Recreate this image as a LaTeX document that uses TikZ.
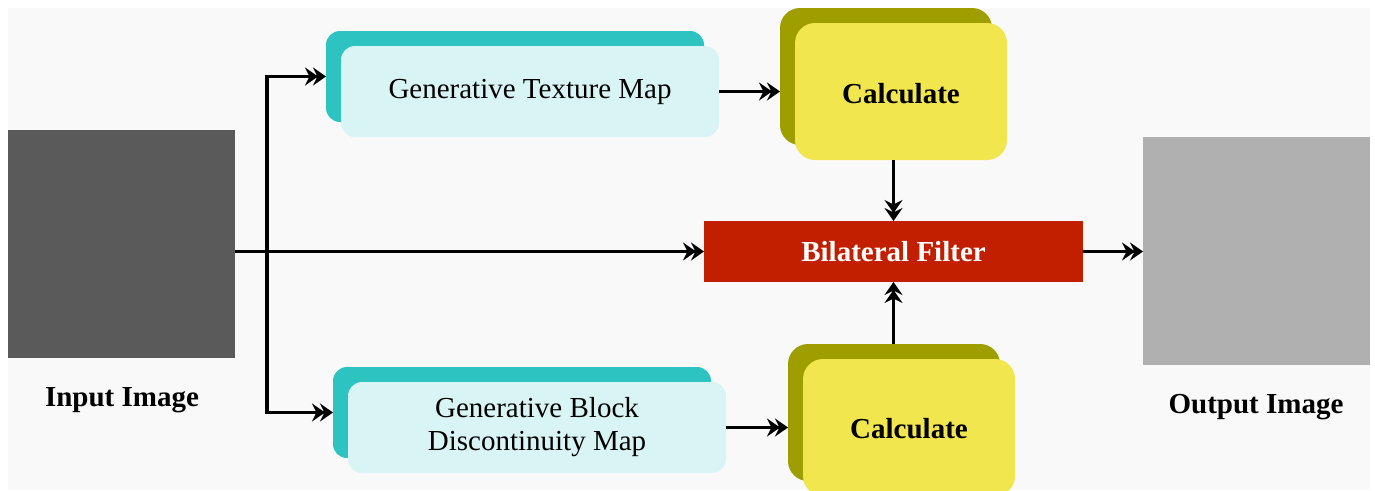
\documentclass[tikz,border=0pt]{standalone}
\usepackage{fontspec}
\setmainfont{Liberation Serif}
\usetikzlibrary{arrows.meta,calc}
\definecolor{bgc}{HTML}{F9F9F9}
\definecolor{tealdark}{HTML}{2CC3C0}
\definecolor{teallight}{HTML}{D9F4F5}
\definecolor{olive}{HTML}{9E9E00}
\definecolor{yel}{HTML}{F2E64E}
\definecolor{redf}{HTML}{C21E00}
\definecolor{ingray}{HTML}{5A5A5A}
\definecolor{outgray}{HTML}{B0B0B0}
\tikzset{
  base/.style={inner sep=0pt, outer sep=0pt, draw=none},
  txt/.style={font=\fontsize{29}{33}\selectfont},
  btxt/.style={font=\fontsize{29}{33}\selectfont\bfseries},
  mapback/.style={base, fill=tealdark, rounded corners=14pt, minimum width=378pt, minimum height=91pt},
  mapfront/.style={base, txt, fill=teallight, rounded corners=14pt, minimum width=378pt, minimum height=91pt, align=center},
  calcback/.style={base, fill=olive, rounded corners=20pt, minimum width=212pt, minimum height=137pt},
  calcfront/.style={base, btxt, fill=yel, rounded corners=20pt, minimum width=212pt, minimum height=137pt},
  imgbox/.style={base, minimum width=227pt, minimum height=228pt},
  lbl/.style={base, btxt},
  tip/.tip={Stealth[length=13pt,width=18pt,inset=4.5pt]},
  arr/.style={line width=3.6pt, -{tip[sep=-5pt]tip}},
}
\begin{document}
\begin{tikzpicture}[x=1pt,y=-1pt]
\useasboundingbox (0,0) rectangle (1375,490);
\fill[white] (0,0) rectangle (1375,490);
\fill[bgc] (8,8) rectangle (1370,490);

\node[imgbox, fill=ingray] (inimg) at (121.5,244) {};
\node[lbl] (inlbl) at (122,400) {Input Image};
\node[imgbox, fill=outgray] (outimg) at (1256.5,251) {};
\node[lbl] (outlbl) at (1256,407) {Output Image};

\node[mapback] (gtmb) at (515,76.5) {};
\node[mapfront] (gtmf) at (530,91.5) {Generative Texture Map};
\node[mapback] (bdmb) at (522,412.5) {};
\node[mapfront] (bdmf) at (537,427.5) {Generative Block\\Discontinuity Map};

\node[calcback] (c1b) at (886,76.5) {};
\node[calcfront, text height=24pt, text depth=0pt] (c1f) at (901,91.5) {Calculate};
\node[calcback] (c2b) at (894,412.5) {};
\node[calcfront, text height=22pt, text depth=0pt] (c2f) at (909,427.5) {Calculate};

\node[base, fill=redf, minimum width=379pt, minimum height=61pt, btxt, text=white] (bil) at (893.5,251.5) {Bilateral Filter};

\coordinate (split) at (267,251.5);
\draw[arr] (inimg.east |- bil.west) -- (bil.west);
\draw[arr] (split) |- (gtmb.west);
\draw[arr] (split) |- (bdmb.west);
\draw[arr] (gtmf.east) -- (gtmf.east -| c1b.west);
\draw[arr] (bdmf.east) -- (bdmf.east -| c2b.west);
\draw[arr] (bil.north |- c1f.south) -- (bil.north);
\draw[arr] (bil.south |- c2b.north) -- (bil.south);
\draw[arr] (bil.east) -- (bil.east -| outimg.west);
\end{tikzpicture}
\end{document}
